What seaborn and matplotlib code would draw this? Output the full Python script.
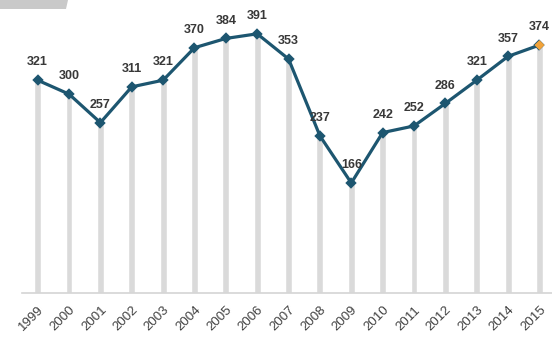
import matplotlib
matplotlib.use("Agg")
import matplotlib.pyplot as plt
import matplotlib.patches as mpatches
import seaborn as sns
import pandas as pd

years = [str(y) for y in range(1999, 2016)]
values = [321, 300, 257, 311, 321, 370, 384, 391, 353, 237, 166, 242, 252, 286, 321, 357, 374]

line_color = "#1d5670"
bar_color = "#dadada"
last_color = "#f2a33a"

sns.set_theme(style="white")
plt.rcParams["font.family"] = ["Liberation Sans", "DejaVu Sans"]

df = pd.DataFrame({"year": years, "value": values})

fig = plt.figure(figsize=(5.52, 3.41), dpi=100)
ax = fig.add_axes([22 / 552, 48 / 341, 530 / 552, 293 / 341])

# Drop bars under each point
sns.barplot(data=df, x="year", y="value", color=bar_color, width=0.22,
            saturation=1, ax=ax, zorder=1)

# Trend line with diamond markers
sns.pointplot(data=df, x="year", y="value", color=line_color, markers="D",
              markersize=3.6, linewidth=2.3, ax=ax, zorder=3)

# Highlight the most recent year
sns.scatterplot(data=df.iloc[[-1]], x="year", y="value", color=last_color,
                marker="D", s=26, edgecolor="none", ax=ax, zorder=4)

for i, v in enumerate(values):
    ax.annotate(str(v), (i, v), xytext=(0, 8.5), textcoords="offset points",
                ha="center", va="bottom", fontsize=9, fontweight="bold",
                color="#383838")

ax.set_xlim(-0.5, 16.4)
ax.set_ylim(0, 442)
ax.set_xlabel("")
ax.set_ylabel("")
ax.set_yticks([])
for side in ["top", "right", "left"]:
    ax.spines[side].set_visible(False)
ax.spines["bottom"].set_color("#d4d4d4")
ax.spines["bottom"].set_linewidth(1.2)
ax.tick_params(axis="x", length=0, pad=8)
plt.setp(ax.get_xticklabels(), rotation=45, ha="right", rotation_mode="anchor",
         fontsize=9.5, color="#404040")

# Gray tab in the upper-left corner
fig.patches.append(mpatches.Polygon([(0, 1), (68 / 552, 1), (66 / 552, 1 - 9 / 341), (0, 1 - 9 / 341)],
                                    closed=True, transform=fig.transFigure,
                                    facecolor="#c9c9c9", edgecolor="none"))

fig.savefig("out.png", dpi=100)
